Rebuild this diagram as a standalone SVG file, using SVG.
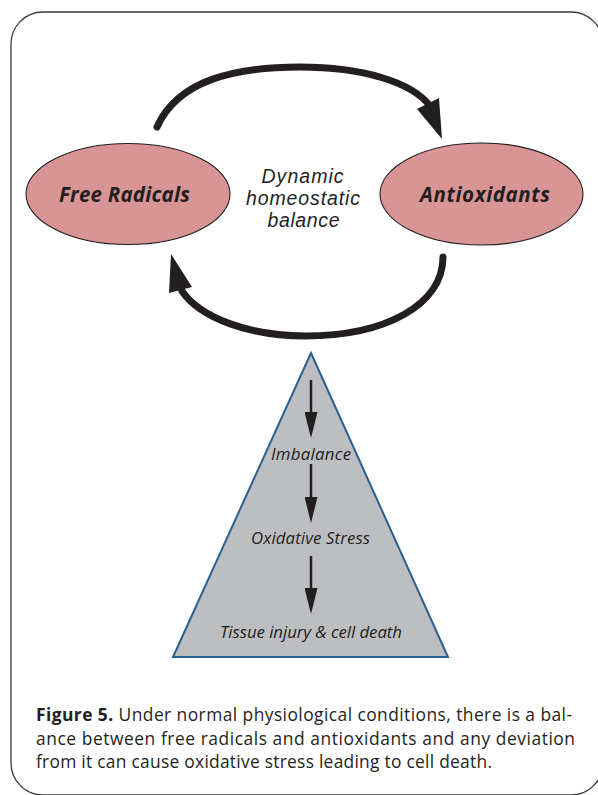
<svg xmlns="http://www.w3.org/2000/svg" width="598" height="795" viewBox="0 0 598 795">
<style>
.frame{fill:#ffffff;stroke:#3a3a3a;stroke-width:1.3}
.node{fill:#d99595;stroke:#231f20;stroke-width:1.1}
.lbl{font-family:"Open Sans","Liberation Sans",sans-serif;font-style:italic;font-weight:bold;font-size:20.5px;fill:#231f20;text-anchor:middle}
.mid{font-family:"Liberation Sans","Open Sans",sans-serif;font-style:italic;font-size:19.5px;fill:#231f20;text-anchor:middle}
.tri{fill:#bdbec1;stroke:#2a5f91;stroke-width:2}
.step{font-family:"Open Sans","Liberation Sans",sans-serif;font-style:italic;font-size:16.8px;fill:#231f20;text-anchor:middle}
.big{fill:none;stroke:#231f20;stroke-width:7;stroke-linecap:round}
.head{fill:#231f20}
.thin{fill:none;stroke:#231f20;stroke-width:2.5;marker-end:url(#dn)}
.cap{font-family:"Open Sans","Liberation Sans",sans-serif;font-size:17.4px;fill:#231f20}
</style>
<defs>
<marker id="dn" markerUnits="userSpaceOnUse" viewBox="0 0 26 13" refX="16" refY="6.5" markerWidth="26" markerHeight="13" orient="auto">
<path d="M0,0 L26,6.5 L0,13 Z" fill="#231f20"/>
</marker>
</defs>
<rect class="frame" x="11" y="12" width="592" height="783" rx="32" ry="32"/>
<g id="connectors">
<path class="big" d="M157,127 C178,80 235,67 300,67 C362,67 412,82 430,106"/>
<polygon class="head" points="442,139 417,109 439,98"/>
<path class="big" d="M443,257 C443,305 385,336 305,336 C250,336 200,318 182,291"/>
<polygon class="head" points="171,254 169,293 192,287"/>
</g>
<g id="free-radicals">
<ellipse class="node" cx="128" cy="194" rx="102" ry="50.5"/>
<text class="lbl" x="124.5" y="202" textLength="131">Free Radicals</text>
</g>
<g id="antioxidants">
<ellipse class="node" cx="481.5" cy="194" rx="101.5" ry="51"/>
<text class="lbl" x="485" y="202" textLength="130">Antioxidants</text>
</g>
<g id="balance-label">
<text class="mid" x="302.5" y="183" textLength="82">Dynamic</text>
<text class="mid" x="303" y="205" textLength="114">homeostatic</text>
<text class="mid" x="303.5" y="227" textLength="72">balance</text>
</g>
<g id="pyramid">
<polygon class="tri" points="311,353 173,657 448,657"/>
</g>
<g id="pyramid-arrows">
<line class="thin" x1="311" y1="380" x2="311" y2="428"/>
<line class="thin" x1="311" y1="464" x2="311" y2="513"/>
<line class="thin" x1="311" y1="556" x2="311" y2="604"/>
</g>
<g id="imbalance"><text class="step" x="311" y="460" textLength="80">Imbalance</text></g>
<g id="oxidative-stress"><text class="step" x="310.5" y="544" textLength="119">Oxidative Stress</text></g>
<g id="tissue-injury"><text class="step" x="311" y="638" textLength="182">Tissue injury &amp; cell death</text></g>
<g id="caption">
<text class="cap" x="36" y="721" textLength="536" lengthAdjust="spacing"><tspan font-weight="bold">Figure 5.</tspan> Under normal physiological conditions, there is a bal-</text>
<text class="cap" x="36" y="745" textLength="539" lengthAdjust="spacing">ance between free radicals and antioxidants and any deviation</text>
<text class="cap" x="36" y="768" textLength="456" lengthAdjust="spacing">from it can cause oxidative stress leading to cell death.</text>
</g>
</svg>
